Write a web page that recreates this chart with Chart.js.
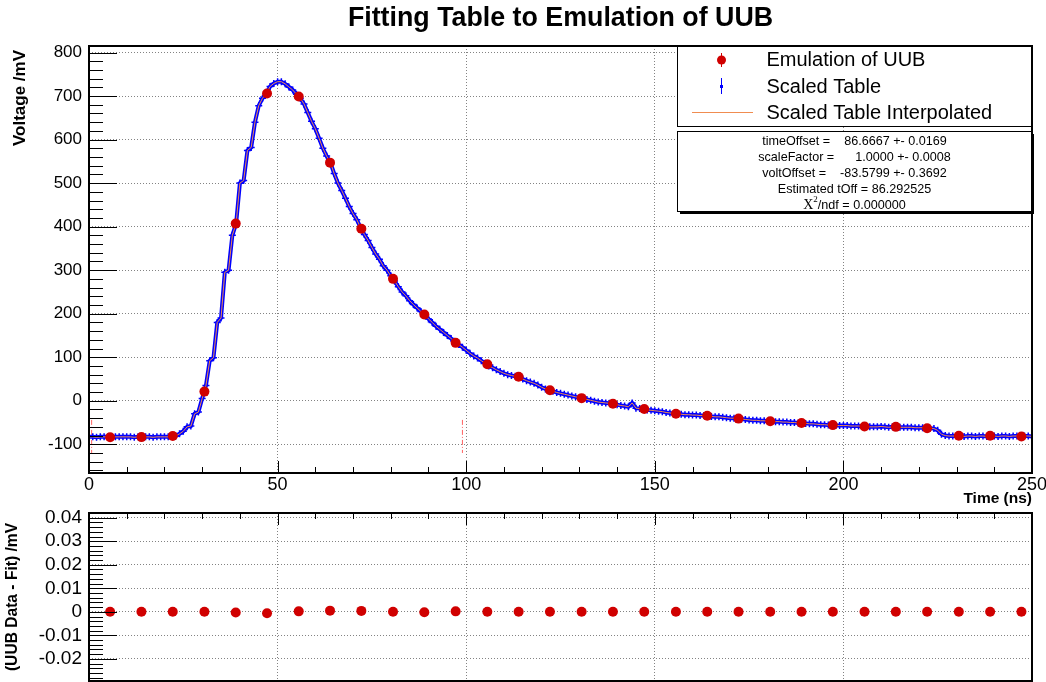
<!DOCTYPE html>
<html>
<head>
<meta charset="utf-8">
<title>Fitting Table to Emulation of UUB</title>
<script src="https://cdn.jsdelivr.net/npm/chart.js@4.4.0/dist/chart.umd.min.js"></script>
<style>
  html, body { margin: 0; padding: 0; background: #fff; }
  #wrap { position: relative; width: 1046px; height: 682px; overflow: hidden; }
  #topChart { position: absolute; left: 0; top: 0; }
  #resChart { position: absolute; left: 0; top: 508px; }
</style>
</head>
<body>
<div id="wrap">
  <canvas id="topChart" width="1046" height="508"></canvas>
  <canvas id="resChart" width="1046" height="174"></canvas>
</div>
<script>
const FONT = '"Liberation Sans", Arial, Helvetica, sans-serif';

// UUB emulation samples: time (ns) and voltage (mV)
const uubTimes = [5.6, 13.9, 22.2, 30.6, 38.9, 47.2, 55.6, 63.9, 72.2, 80.6,
  88.9, 97.2, 105.6, 113.9, 122.2, 130.6, 138.9, 147.2, 155.6, 163.9,
  172.2, 180.6, 188.9, 197.2, 205.6, 213.9, 222.2, 230.6, 238.9, 247.2];
const uubVolts = [-84, -83.5, -81, 21, 407, 706, 699, 547, 395, 280,
  198, 133, 84, 55, 24, 6, -7, -19, -30, -34.5,
  -41, -47, -51, -56, -59, -60, -63, -80.5, -80.5, -82];

// UUB data minus fit (mV), same sample times
const residuals = [0, 0, 0, 0, -0.0003, -0.0006, 0.0002, 0.0005, 0.0004, 0,
  -0.0002, 0.0002, 0, 0, 0, 0, 0, 0, 0, 0,
  0, 0, 0, 0, 0, 0, 0, 0, 0, 0];

// scaled table trace, one sample per ns from t = 0
const tableStep = 1;
const tableVolts = [
  -83, -83, -84, -83, -83, -83, -84, -83, -83, -83,
  -83, -83, -84, -83, -83, -83, -83, -84, -83, -83,
  -83, -83, -82, -81, -76, -70, -60, -58, -30, -26,
  5, 35, 92, 99, 180, 190, 295, 300, 380, 407,
  500, 506, 575, 582, 640, 678, 695, 706, 722, 729,
  733, 733, 728, 721, 714, 704, 695, 682, 662, 642,
  625, 603, 580, 562, 547, 522, 500, 483, 465, 446,
  430, 416, 398, 382, 368, 352, 337, 325, 310, 300,
  287, 275, 262, 250, 241, 230, 221, 213, 205, 198,
  188, 180, 171, 164, 157, 150, 143, 135, 129, 123,
  116, 109, 103, 98, 92, 86, 80, 76, 71, 67,
  63, 60, 58, 56, 54, 50, 46, 43, 40, 36,
  31, 27, 24, 22, 19, 17, 15, 13, 11, 9,
  7, 5, 3, 1, -1, -3, -4, -5, -6, -7,
  -9, -11, -12, -14, -5, -17, -18, -19, -21, -22,
  -23, -24, -25, -27, -28, -30, -30, -31, -32, -32,
  -33, -33, -34, -34, -35, -36, -37, -37, -38, -39,
  -40, -40, -41, -42, -43, -44, -45, -45, -46, -46,
  -47, -47, -48, -48, -49, -49, -50, -50, -51, -51,
  -52, -53, -53, -54, -55, -55, -56, -56, -57, -57,
  -57, -57, -58, -58, -58, -59, -59, -60, -60, -60,
  -59, -60, -61, -60, -60, -61, -61, -61, -61, -62,
  -62, -62, -63, -63, -64, -68, -77, -80, -81, -81,
  -81, -81, -82, -81, -81, -82, -81, -81, -82, -81,
  -81, -82, -81, -81, -82, -81, -81, -82, -81, -81,
  -82
];

// dash-dot time markers (ns) and their vertical extent (mV)
const markerTimes = [0.7, 99.0];
const markerRange = [-44, -120];

const timeTicks = [0, 50, 100, 150, 200, 250];
const voltTicks = [-100, 0, 100, 200, 300, 400, 500, 600, 700, 800];
const residTicks = [-0.02, -0.01, 0, 0.01, 0.02, 0.03, 0.04];

const tablePoints = tableVolts.map((v, i) => ({ x: i * tableStep, y: v }));
const uubPoints = uubTimes.map((t, i) => ({ x: t, y: uubVolts[i] }));
const residPoints = uubTimes.map((t, i) => ({ x: t, y: residuals[i] }));

const RED = 'rgb(208,0,0)';
const BLUE = 'rgb(0,0,255)';
const ORANGE = 'rgb(240,140,80)';

function eachTick(min, max, step, majorStep, fn) {
  const k0 = Math.ceil(min / step - 1e-6);
  for (let k = k0; k * step <= max + 1e-9; k++) {
    const v = k * step;
    const r = v / majorStep;
    fn(v, Math.abs(r - Math.round(r)) < 1e-6);
  }
}

// ROOT style frame: inward ticks plus a heavy box
function rootFrame(spec) {
  return {
    id: 'rootFrame',
    afterDraw(chart) {
      const ctx = chart.ctx, a = chart.chartArea;
      const xs = chart.scales.x, ys = chart.scales.y;
      ctx.save();
      ctx.strokeStyle = '#000';
      ctx.lineWidth = 1;
      ctx.beginPath();
      eachTick(ys.min, ys.max, spec.yMinor, spec.yMajor, (v, major) => {
        const y = Math.round(ys.getPixelForValue(v)) + 0.5;
        ctx.moveTo(a.left, y);
        ctx.lineTo(a.left + (major ? 28 : 14), y);
      });
      eachTick(xs.min, xs.max, spec.xMinor, spec.xMajor, (v, major) => {
        const x = Math.round(xs.getPixelForValue(v)) + 0.5;
        const len = major ? 12 : 6;
        if (spec.xSide === 'top') {
          ctx.moveTo(x, a.top);
          ctx.lineTo(x, a.top + len);
        } else {
          ctx.moveTo(x, a.bottom);
          ctx.lineTo(x, a.bottom - len);
        }
      });
      ctx.stroke();
      if (spec.decor) spec.decor(ctx, a);
      ctx.lineWidth = 2;
      ctx.strokeRect(a.left, a.top, a.right - a.left, a.bottom - a.top);
      ctx.restore();
    }
  };
}

function drawTopDecor(ctx, a) {
  ctx.fillStyle = '#000';
  ctx.textAlign = 'center';
  ctx.textBaseline = 'alphabetic';
  ctx.font = 'bold 26.8px ' + FONT;
  ctx.fillText('Fitting Table to Emulation of UUB', (a.left + a.right) / 2, 26);

  ctx.save();
  ctx.translate(20, 50);
  ctx.rotate(-Math.PI / 2);
  ctx.textAlign = 'right';
  ctx.textBaseline = 'middle';
  ctx.font = 'bold 17px ' + FONT;
  ctx.fillText('Voltage /mV', 0, 0);
  ctx.restore();

  ctx.textAlign = 'right';
  ctx.font = 'bold 15.5px ' + FONT;
  ctx.fillText('Time (ns)', a.right, 503);

  // legend
  ctx.fillStyle = '#fff';
  ctx.fillRect(677.5, 46.5, 354, 80);
  ctx.strokeStyle = '#000';
  ctx.lineWidth = 1;
  ctx.strokeRect(677.5, 46.5, 354, 80);

  ctx.strokeStyle = RED;
  ctx.beginPath();
  ctx.moveTo(721.5, 53); ctx.lineTo(721.5, 67);
  ctx.stroke();
  ctx.fillStyle = RED;
  ctx.beginPath();
  ctx.arc(721.5, 60, 4.5, 0, Math.PI * 2);
  ctx.fill();

  ctx.strokeStyle = BLUE;
  ctx.beginPath();
  ctx.moveTo(721.5, 78); ctx.lineTo(721.5, 94);
  ctx.stroke();
  ctx.fillStyle = BLUE;
  ctx.fillRect(720, 85, 3, 3);

  ctx.strokeStyle = ORANGE;
  ctx.beginPath();
  ctx.moveTo(692, 112.5); ctx.lineTo(753, 112.5);
  ctx.stroke();

  ctx.fillStyle = '#000';
  ctx.textAlign = 'left';
  ctx.font = '20px ' + FONT;
  ctx.fillText('Emulation of UUB', 766.5, 66);
  ctx.fillText('Scaled Table', 766.5, 92.5);
  ctx.fillText('Scaled Table Interpolated', 766.5, 119);

  // fit statistics box with shadow
  ctx.fillStyle = '#000';
  ctx.fillRect(680, 134, 354, 80);
  ctx.fillStyle = '#fff';
  ctx.fillRect(677.5, 131.5, 354, 80);
  ctx.strokeStyle = '#000';
  ctx.strokeRect(677.5, 131.5, 354, 80);

  const cx = 854.5;
  ctx.fillStyle = '#000';
  ctx.textAlign = 'center';
  ctx.font = '12.6px ' + FONT;
  ctx.fillText('timeOffset =    86.6667 +- 0.0169', cx, 144.5);
  ctx.fillText('scaleFactor =      1.0000 +- 0.0008', cx, 160.5);
  ctx.fillText('voltOffset =    -83.5799 +- 0.3692', cx, 176.5);
  ctx.fillText('Estimated tOff = 86.292525', cx, 192.5);

  const chiFont = '14px "Liberation Serif", "Times New Roman", serif';
  const supFont = '9px "Liberation Serif", "Times New Roman", serif';
  const restFont = '12.6px ' + FONT;
  const rest = '/ndf = 0.000000';
  ctx.font = chiFont; const w1 = ctx.measureText('X').width;
  ctx.font = supFont; const w2 = ctx.measureText('2').width;
  ctx.font = restFont; const w3 = ctx.measureText(rest).width;
  let x = cx - (w1 + w2 + w3) / 2;
  ctx.textAlign = 'left';
  ctx.font = chiFont; ctx.fillText('X', x, 208.5); x += w1;
  ctx.font = supFont; ctx.fillText('2', x, 202); x += w2;
  ctx.font = restFont; ctx.fillText(rest, x, 208.5);
}

function drawResDecor(ctx, a) {
  ctx.save();
  ctx.translate(13, (a.top + a.bottom) / 2);
  ctx.rotate(-Math.PI / 2);
  ctx.fillStyle = '#000';
  ctx.textAlign = 'center';
  ctx.textBaseline = 'middle';
  ctx.font = 'bold 15.6px ' + FONT;
  ctx.fillText('(UUB Data - Fit) /mV', 0, 0);
  ctx.restore();
}

const gridOpts = { color: 'rgba(90,90,90,0.75)', lineWidth: 1, drawTicks: false };
const borderOpts = { display: false, dash: [1, 2] };

new Chart(document.getElementById('topChart'), {
  type: 'scatter',
  data: {
    datasets: [
      {
        label: 'Emulation of UUB',
        data: uubPoints,
        pointRadius: 5,
        pointBackgroundColor: RED,
        pointBorderColor: RED,
        pointBorderWidth: 0,
        order: 0
      },
      {
        label: 'Scaled Table Interpolated',
        data: tablePoints,
        showLine: true,
        borderColor: ORANGE,
        borderWidth: 1,
        pointRadius: 0,
        order: 1
      },
      {
        label: 'Scaled Table',
        data: tablePoints,
        showLine: true,
        borderColor: BLUE,
        borderWidth: 4,
        pointStyle: 'cross',
        pointRadius: 3.5,
        pointBorderColor: BLUE,
        pointBorderWidth: 1.5,
        order: 2
      },
      ...markerTimes.map(t => ({
        label: 'marker',
        data: [{ x: t, y: markerRange[0] }, { x: t, y: markerRange[1] }],
        showLine: true,
        borderColor: 'rgba(255,70,70,0.85)',
        borderWidth: 1,
        borderDash: [5, 2, 1, 2],
        pointRadius: 0,
        order: 3
      }))
    ]
  },
  options: {
    responsive: false,
    animation: false,
    events: [],
    layout: { autoPadding: false, padding: { top: 46, right: 14, left: 0, bottom: 0 } },
    plugins: { legend: { display: false }, tooltip: { enabled: false }, title: { display: false } },
    scales: {
      x: {
        type: 'linear', min: 0, max: 250,
        afterBuildTicks: s => { s.ticks = timeTicks.map(v => ({ value: v })); },
        afterFit: s => { s.height = 35; s.paddingLeft = 0; s.paddingRight = 0; },
        grid: gridOpts, border: borderOpts,
        ticks: { color: '#000', font: { family: FONT, size: 18 }, padding: 1, maxRotation: 0, autoSkip: false }
      },
      y: {
        type: 'linear', min: -166, max: 815,
        afterBuildTicks: s => { s.ticks = voltTicks.map(v => ({ value: v })); },
        afterFit: s => { s.width = 89; s.paddingTop = 0; s.paddingBottom = 0; },
        grid: gridOpts, border: borderOpts,
        ticks: { color: '#000', font: { family: FONT, size: 17 }, padding: 7, autoSkip: false }
      }
    }
  },
  plugins: [rootFrame({ yMinor: 20, yMajor: 100, xMinor: 10, xMajor: 50, xSide: 'bottom', decor: drawTopDecor })]
});

new Chart(document.getElementById('resChart'), {
  type: 'scatter',
  data: {
    datasets: [{
      label: 'UUB Data - Fit',
      data: residPoints,
      pointRadius: 5,
      pointBackgroundColor: RED,
      pointBorderColor: RED,
      pointBorderWidth: 0
    }]
  },
  options: {
    responsive: false,
    animation: false,
    events: [],
    layout: { autoPadding: false, padding: { top: 5, right: 14, left: 0, bottom: 0 } },
    plugins: { legend: { display: false }, tooltip: { enabled: false }, title: { display: false } },
    scales: {
      x: {
        type: 'linear', min: 0, max: 250,
        afterBuildTicks: s => { s.ticks = timeTicks.map(v => ({ value: v })); },
        afterFit: s => { s.height = 1; s.paddingLeft = 0; s.paddingRight = 0; },
        grid: gridOpts, border: borderOpts,
        ticks: { display: false }
      },
      y: {
        type: 'linear', min: -0.0294, max: 0.042,
        afterBuildTicks: s => { s.ticks = residTicks.map(v => ({ value: v })); },
        afterFit: s => { s.width = 89; s.paddingTop = 0; s.paddingBottom = 0; },
        grid: gridOpts, border: borderOpts,
        ticks: {
          color: '#000', font: { family: FONT, size: 19 }, padding: 7, autoSkip: false,
          callback: v => (Math.abs(v) < 1e-9 ? '0' : v.toFixed(2))
        }
      }
    }
  },
  plugins: [rootFrame({ yMinor: 0.002, yMajor: 0.01, xMinor: 10, xMajor: 50, xSide: 'top', decor: drawResDecor })]
});
</script>
</body>
</html>
